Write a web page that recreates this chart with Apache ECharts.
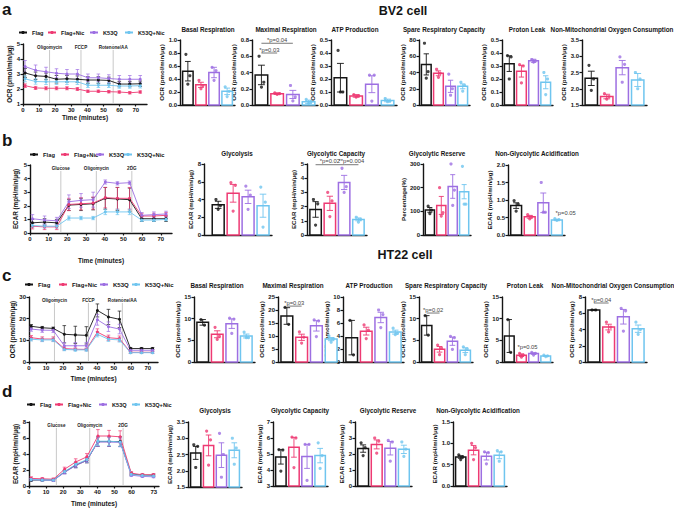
<!DOCTYPE html>
<html><head><meta charset="utf-8">
<script src="https://cdn.jsdelivr.net/npm/echarts/dist/echarts.min.js"></script>
<style>html,body{margin:0;padding:0;background:#fff}#c{width:674px;height:508px}</style>
</head><body><div id="c"></div>
<script>
// ---------------- DATA ----------------
const groups = ['Flag', 'Flag+Nic', 'K53Q', 'K53Q+Nic'];
const timeMin = [1.3, 7.8, 14.3, 20.8, 27.3, 33.8, 40.3, 46.8, 53.3, 59.8, 66.3, 72.8];
const timeTicks = [0, 10, 20, 30, 40, 50, 60, 70];
const timeTicksD = [0, 10, 20, 30, 40, 50, 60, 73];

// a: BV2 OCR kinetic
const aFlag = [3.07, 2.88, 2.84, 2.65, 2.68, 2.65, 2.60, 2.60, 2.57, 2.33, 2.33, 2.35];
const aFlagErr = [0.30, 0.25, 0.22, 0.25, 0.22, 0.22, 0.22, 0.22, 0.22, 0.18, 0.18, 0.18];
const aFlagNic = [2.22, 2.07, 2.05, 2.05, 2.05, 2.00, 1.85, 1.85, 1.82, 1.80, 1.75, 1.80];
const aFlagNicErr = [0.12, 0.10, 0.10, 0.10, 0.10, 0.10, 0.08, 0.08, 0.08, 0.08, 0.08, 0.08];
const aK53Q = [3.50, 3.25, 3.15, 3.05, 3.00, 3.00, 2.75, 2.75, 2.70, 2.65, 2.65, 2.65];
const aK53QErr = [0.40, 0.35, 0.30, 0.30, 0.30, 0.30, 0.25, 0.25, 0.25, 0.25, 0.25, 0.25];
const aK53QNic = [2.68, 2.50, 2.48, 2.48, 2.48, 2.48, 2.25, 2.25, 2.25, 2.20, 2.20, 2.22];
const aK53QNicErr = [0.20, 0.18, 0.18, 0.18, 0.18, 0.18, 0.15, 0.15, 0.15, 0.15, 0.15, 0.15];
const aInject = [16.5, 36, 56];
const aInjectNames = ['Oligomycin', 'FCCP', 'Rotenone/AA'];

// b: BV2 ECAR kinetic
const bFlag = [0.75, 0.80, 0.75, 2.05, 2.10, 2.15, 2.55, 2.50, 2.45, 1.05, 1.05, 1.05];
const bFlagErr = [0.25, 0.25, 0.25, 0.40, 0.45, 0.45, 0.80, 0.85, 0.85, 0.20, 0.20, 0.20];
const bFlagNic = [0.50, 0.45, 0.45, 2.10, 2.15, 2.20, 2.60, 2.55, 2.55, 1.25, 1.25, 1.30];
const bFlagNicErr = [0.20, 0.20, 0.20, 0.45, 0.45, 0.45, 0.75, 0.80, 0.80, 0.20, 0.20, 0.20];
const bK53Q = [1.05, 0.95, 0.90, 2.30, 2.40, 2.45, 3.75, 3.65, 3.70, 1.30, 1.35, 1.40];
const bK53QErr = [0.30, 0.30, 0.25, 0.50, 0.50, 0.55, 0.15, 0.12, 0.12, 0.20, 0.20, 0.20];
const bK53QNic = [0.55, 0.50, 0.50, 1.10, 1.10, 1.10, 1.55, 1.55, 1.55, 0.95, 0.95, 1.00];
const bK53QNicErr = [0.15, 0.15, 0.15, 0.15, 0.12, 0.12, 0.20, 0.20, 0.20, 0.10, 0.10, 0.10];
const bInject = [16.5, 35.5, 54.5];
const bInjectNames = ['Glucose', 'Oligomycin', '2DG'];

// c: HT22 OCR kinetic
const cFlag = [16.5, 15.8, 15.5, 12.8, 12.5, 12.3, 23.8, 20.8, 19.7, 6.2, 6.2, 6.2];
const cFlagErr = [0.8, 0.6, 0.6, 4.0, 4.0, 4.0, 3.0, 3.5, 3.8, 0.5, 0.5, 0.5];
const cFlagNic = [11.2, 10.6, 10.6, 6.2, 5.9, 5.8, 13.8, 11.2, 10.8, 4.5, 4.5, 4.5];
const cFlagNicErr = [1.0, 1.0, 1.0, 0.7, 0.6, 0.6, 1.5, 1.2, 1.2, 0.5, 0.5, 0.5];
const cK53Q = [15.2, 14.7, 14.6, 7.5, 7.5, 7.5, 19.5, 16.3, 15.2, 5.4, 5.4, 5.4];
const cK53QErr = [1.0, 1.0, 1.0, 1.5, 1.5, 1.5, 2.5, 2.2, 2.2, 0.5, 0.5, 0.5];
const cK53QNic = [10.5, 10.2, 10.2, 5.8, 5.6, 5.6, 12.8, 10.5, 10.2, 4.3, 4.3, 4.3];
const cK53QNicErr = [0.8, 0.8, 0.8, 0.6, 0.6, 0.6, 1.2, 1.0, 1.0, 0.4, 0.4, 0.4];
const cInject = [15, 35, 55];
const cInjectNames = ['Oligomycin', 'FCCP', 'Rotenone/AA'];

// d: HT22 ECAR kinetic
const dFlag = [0.75, 0.75, 0.75, 1.75, 2.60, 3.20, 5.55, 5.55, 5.55, 1.50, 1.35, 1.35];
const dFlagErr = [0.15, 0.12, 0.12, 0.20, 0.30, 0.30, 0.60, 0.60, 0.60, 0.15, 0.12, 0.12];
const dFlagNic = [0.95, 0.90, 0.85, 2.10, 3.00, 3.65, 6.25, 6.25, 6.15, 1.60, 1.40, 1.40];
const dFlagNicErr = [0.20, 0.15, 0.15, 0.25, 0.40, 0.40, 0.80, 0.70, 0.75, 0.20, 0.15, 0.15];
const dK53Q = [0.80, 0.75, 0.70, 1.70, 2.55, 3.20, 5.50, 5.50, 5.45, 1.35, 1.20, 1.15];
const dK53QErr = [0.15, 0.12, 0.12, 0.20, 0.30, 0.30, 0.55, 0.55, 0.55, 0.15, 0.12, 0.12];
const dK53QNic = [0.80, 0.75, 0.75, 1.80, 2.70, 3.30, 5.60, 5.60, 5.50, 1.45, 1.30, 1.25];
const dK53QNicErr = [0.15, 0.12, 0.12, 0.20, 0.30, 0.30, 0.55, 0.55, 0.55, 0.15, 0.12, 0.12];
const dInject = [16, 35.5, 55];
const dInjectNames = ['Glucose', 'Oligomycin', '2DG'];

// bar panels: mean, sem, individual points (per group)
const a1Mean = [0.52, 0.31, 0.50, 0.21], a1Sem = [0.15, 0.04, 0.08, 0.05];
const a1Pts = [[0.78, 0.45, 0.32], [0.38, 0.30, 0.25], [0.58, 0.53, 0.38], [0.28, 0.21, 0.13]];
const a2Mean = [0.37, 0.14, 0.13, 0.04], a2Sem = [0.12, 0.01, 0.05, 0.02];
const a2Pts = [[0.60, 0.28, 0.22], [0.15, 0.14, 0.13], [0.24, 0.10, 0.05], [0.07, 0.04, 0.02]];
const a3Mean = [0.21, 0.07, 0.16, 0.035], a3Sem = [0.11, 0.01, 0.065, 0.01];
const a3Pts = [[0.42, 0.10, 0.10], [0.08, 0.07, 0.06], [0.23, 0.23, 0.03], [0.05, 0.03, 0.025]];
const a4Mean = [50, 39, 23, 23], a4Sem = [13, 3, 7.5, 3];
const a4Pts = [[76, 41, 33], [44, 39, 34], [38, 20, 12], [28, 24, 17]];
const a5Mean = [0.318, 0.26, 0.34, 0.175], a5Sem = [0.06, 0.045, 0.012, 0.05];
const a5Pts = [[0.38, 0.37, 0.20], [0.31, 0.30, 0.17], [0.35, 0.34, 0.33], [0.25, 0.20, 0.08]];
const a6Mean = [2.32, 1.76, 2.65, 2.27], a6Sem = [0.22, 0.07, 0.22, 0.2];
const a6Pts = [[2.72, 2.30, 1.95], [1.85, 1.76, 1.68], [2.98, 2.75, 2.20], [2.50, 2.30, 2.00]];

const b1Mean = [3.4, 4.7, 4.3, 3.3], b1Sem = [0.4, 1.0, 0.75, 1.3];
const b1Pts = [[4.0, 3.3, 2.9], [5.9, 5.6, 2.7], [5.5, 4.5, 2.9], [5.4, 3.7, 0.9]];
const b2Mean = [1.8, 2.23, 3.7, 1.1], b2Sem = [0.55, 0.5, 0.5, 0.1];
const b2Pts = [[2.5, 2.2, 0.7], [3.0, 2.4, 1.3], [4.7, 3.4, 3.0], [1.25, 1.1, 0.9]];
const b3Mean = [106, 125, 205, 183], b3Sem = [10, 38, 50, 30];
const b3Pts = [[122, 105, 90], [200, 95, 80], [300, 190, 125], [290, 130, 130]];
const b4Mean = [0.84, 0.52, 0.92, 0.43], b4Sem = [0.08, 0.04, 0.28, 0.02];
const b4Pts = [[0.98, 0.88, 0.68], [0.58, 0.52, 0.46], [1.50, 0.65, 0.65], [0.47, 0.44, 0.42]];

const c1Mean = [9.15, 6.4, 8.85, 6.0], c1Sem = [0.65, 0.8, 1.1, 0.45];
const c1Pts = [[9.8, 8.5], [8.0, 5.9, 5.2], [10.1, 9.9, 6.6], [6.9, 5.6, 5.6]];
const c2Mean = [17.7, 9.5, 13.9, 8.8], c2Sem = [3.2, 1.2, 2.0, 0.6];
const c2Pts = [[21.0, 14.5], [11.6, 9.6, 7.3], [16.2, 15.8, 9.8], [10.0, 8.9, 7.6]];
const c3Mean = [3.75, 4.75, 6.85, 4.6], c3Sem = [2.65, 0.6, 0.8, 0.3];
const c3Pts = [[6.4, 1.1], [5.7, 4.9, 3.6], [8.0, 7.3, 5.3], [5.2, 4.4, 4.2]];
const c4Mean = [8.45, 2.93, 4.8, 2.73], c4Sem = [2.25, 0.65, 0.95, 0.55];
const c4Pts = [[10.7, 6.2], [3.9, 3.2, 1.7], [5.9, 5.6, 2.9], [3.5, 3.0, 1.7]];
const c5Mean = [6.0, 1.57, 1.95, 1.4], c5Sem = [3.8, 0.3, 0.18, 0.1];
const c5Pts = [[9.8, 2.2], [2.0, 1.6, 1.1], [2.2, 2.0, 1.6], [1.6, 1.4, 1.25]];
const c6Mean = [6.4, 4.3, 5.57, 4.1], c6Sem = [0.03, 0.35, 0.9, 0.45];
const c6Pts = [[6.4, 6.4], [4.9, 4.3, 3.7], [6.6, 6.3, 3.8], [4.9, 4.0, 3.4]];

const d1Mean = [2.55, 2.78, 2.48, 2.63], d1Sem = [0.2, 0.32, 0.38, 0.23];
const d1Pts = [[2.8, 2.75, 2.1], [3.22, 2.95, 2.17], [3.15, 2.5, 1.8], [3.0, 2.7, 2.2]];
const d2Mean = [4.82, 5.42, 4.85, 4.9], d2Sem = [0.45, 0.62, 0.75, 0.45];
const d2Pts = [[5.28, 5.25, 3.93], [6.05, 6.0, 4.15], [5.6, 5.6, 3.35], [5.7, 4.9, 4.1]];
const d3Mean = [2.34, 2.6, 2.36, 2.29], d3Sem = [0.23, 0.28, 0.42, 0.26];
const d3Pts = [[2.7, 2.4, 1.9], [3.0, 2.8, 2.05], [2.85, 2.75, 1.55], [2.75, 2.3, 1.85]];
const d4Mean = [0.68, 0.84, 0.70, 0.72], d4Sem = [0.03, 0.11, 0.09, 0.08];
const d4Pts = [[0.73, 0.68, 0.62], [1.0, 0.9, 0.62], [0.8, 0.78, 0.52], [0.83, 0.8, 0.58]];

// significance annotations: [fromGroup, toGroup, y, text]
const a2Sig = [[0, 2, 0.76, '*p=0.04'], [0, 1, 0.64, '*p=0.03']];
const b2Sig = [[0, 2, 4.95, '*p=0.02'], [2, 3, 4.95, '**p=0.004']];
const b4Sig = [[3.65, 3.65, 0.62, '*p=0.05']];
const c2Sig = [[0, 1, 21.5, '*p=0.03']];
const c4Sig = [[0, 1, 11.3, '*p=0.02']];
const c5Sig = [[1.5, 1.5, 3.5, '*p=0.05']];
const c6Sig = [[0, 1, 7.26, '*p=0.04']];

// ---------------- STYLE / LAYOUT ----------------
const COLORS = ['#151515', '#ee3a73', '#9d6fe2', '#6fc5ef'];
const FONT = 'Liberation Sans, Arial, Helvetica, sans-serif';
const OCR = 'OCR (pmol/min/μg)', ECAR = 'ECAR (mpH/min/μg)';

const lineCharts = [
  {box: [23, 44, 124, 60], x: [0, 77], y: [1, 5, 1], ticks: timeTicks, yName: OCR, yGap: 10, xGap: 10,
   s: [[aFlag, aFlagErr], [aFlagNic, aFlagNicErr], [aK53Q, aK53QErr], [aK53QNic, aK53QNicErr]],
   inj: aInject, injN: aInjectNames, leg: [18, 47, 89, 124], legTop: 29.5, legFont: 5.6},
  {box: [30, 165, 142, 68], x: [0, 76], y: [0, 5, 1], ticks: timeTicks, yName: ECAR, yGap: 12, xGap: 24,
   s: [[bFlag, bFlagErr], [bFlagNic, bFlagNicErr], [bK53Q, bK53QErr], [bK53QNic, bK53QNicErr]],
   inj: bInject, injN: bInjectNames, leg: [29, 60, 95, 123], legTop: 151.5, legFont: 5.8},
  {box: [29, 297, 129, 65], x: [0, 76], y: [0, 30, 10], ticks: timeTicks, yName: OCR, yGap: 12, xGap: 13,
   s: [[cFlag, cFlagErr], [cFlagNic, cFlagNicErr], [cK53Q, cK53QErr], [cK53QNic, cK53QNicErr]],
   inj: cInject, injN: cInjectNames, leg: [24, 58, 99, 131], legTop: 281.5, legFont: 6},
  {box: [29, 422, 130, 65], x: [0, 76], y: [0, 8, 2], ticks: timeTicksD, yName: ECAR, yGap: 10, xGap: 14,
   s: [[dFlag, dFlagErr], [dFlagNic, dFlagNicErr], [dK53Q, dK53QErr], [dK53QNic, dK53QNicErr]],
   inj: dInject, injN: dInjectNames, leg: [26, 54, 98, 131], legTop: 401.5, legFont: 5.6}
];

const barCharts = [
  {box: [180, 40, 55, 65], y: [0, 1.0, 0.2], dec: 1, title: 'Basal Respiration', tx: 208, ty: 29, yName: OCR, m: a1Mean, e: a1Sem, p: a1Pts},
  {box: [252, 40, 66, 65], y: [0, 0.8, 0.2], dec: 1, title: 'Maximal Respiration', tx: 286, ty: 29, yName: OCR, m: a2Mean, e: a2Sem, p: a2Pts, sig: a2Sig},
  {box: [331, 40, 66, 65], y: [0, 0.5, 0.1], dec: 1, title: 'ATP Production', tx: 355, ty: 29, yName: OCR, m: a3Mean, e: a3Sem, p: a3Pts},
  {box: [419, 40, 51, 65], y: [0, 80, 20], dec: 0, title: 'Spare Respiratory Capacity', tx: 444, ty: 29, yName: OCR, m: a4Mean, e: a4Sem, p: a4Pts},
  {box: [502, 40, 51, 65], y: [0, 0.5, 0.1], dec: 1, title: 'Proton Leak', tx: 527, ty: 29, yName: OCR, m: a5Mean, e: a5Sem, p: a5Pts},
  {box: [582, 40, 65, 65], y: [1.5, 3.5, 0.5], dec: 1, title: 'Non-Mitochondrial Oxygen Consumption', tx: 612, ty: 29, yName: OCR, m: a6Mean, e: a6Sem, p: a6Pts},

  {box: [204, 164, 68, 71], xr: [-0.95, 3.6], y: [0, 8, 2], dec: 0, title: 'Glycolysis', tx: 237, ty: 153, yName: ECAR, m: b1Mean, e: b1Sem, p: b1Pts},
  {box: [307, 164, 60, 71], y: [0, 5, 1], dec: 0, title: 'Glycolytic Capacity', tx: 336, ty: 153, yName: ECAR, m: b2Mean, e: b2Sem, p: b2Pts, sig: b2Sig},
  {box: [423, 164, 48, 71], y: [0, 300, 100], dec: 0, title: 'Glycolytic Reserve', tx: 437, ty: 153, yName: 'Percentage(%)', m: b3Mean, e: b3Sem, p: b3Pts},
  {box: [508, 165, 57, 70], y: [0, 2.0, 0.5], dec: 1, title: 'Non-Glycolytic Acidification', tx: 537, ty: 153, yName: ECAR, m: b4Mean, e: b4Sem, p: b4Pts, sig: b4Sig},

  {box: [194, 297, 61, 65], y: [0, 15, 5], dec: 0, title: 'Basal Respiration', tx: 217, ty: 285, yName: OCR, m: c1Mean, e: c1Sem, p: c1Pts},
  {box: [278, 297, 62, 65], y: [0, 25, 5], dec: 0, title: 'Maximal Respiration', tx: 293, ty: 285, yName: OCR, m: c2Mean, e: c2Sem, p: c2Pts, sig: c2Sig},
  {box: [343, 297, 61, 65], y: [0, 10, 2], dec: 0, title: 'ATP Production', tx: 369, ty: 285, yName: OCR, m: c3Mean, e: c3Sem, p: c3Pts},
  {box: [419, 297, 54, 65], y: [0, 15, 5], dec: 0, title: 'Spare Respiratory Capacity', tx: 446, ty: 285, yName: OCR, m: c4Mean, e: c4Sem, p: c4Pts, sig: c4Sig},
  {box: [502, 297, 51, 65], y: [0, 15, 5], dec: 0, title: 'Proton Leak', tx: 525, ty: 285, yName: OCR, m: c5Mean, e: c5Sem, p: c5Pts, sig: c5Sig},
  {box: [585, 297, 62, 65], y: [0, 8, 2], dec: 0, title: 'Non-Mitochondrial Oxygen Consumption', tx: 613, ty: 285, yName: OCR, m: c6Mean, e: c6Sem, p: c6Pts, sig: c6Sig},

  {box: [188, 422, 54, 65], y: [1.5, 3.5, 0.5], dec: 1, title: 'Glycolysis', tx: 215, ty: 410, yName: ECAR, m: d1Mean, e: d1Sem, p: d1Pts},
  {box: [273, 422, 55, 64], y: [3, 7, 1], dec: 0, title: 'Glycolytic Capacity', tx: 300, ty: 410, yName: ECAR, m: d2Mean, e: d2Sem, p: d2Pts},
  {box: [355, 422, 57, 64], y: [0, 4, 1], dec: 0, title: 'Glycolytic Reserve', tx: 388, ty: 410, yName: ECAR, m: d3Mean, e: d3Sem, p: d3Pts},
  {box: [453, 422, 54, 64], y: [0, 1.5, 0.5], dec: 1, title: 'Non-Glycolytic Acidification', tx: 478, ty: 410, yName: ECAR, m: d4Mean, e: d4Sem, p: d4Pts}
];

const texts = [
  {t: 'a', x: 2, y: 9, size: 17, align: 'left'},
  {t: 'b', x: 2, y: 140, size: 17, align: 'left'},
  {t: 'c', x: 2, y: 275, size: 17, align: 'left'},
  {t: 'd', x: 2, y: 391, size: 17, align: 'left'},
  {t: 'BV2 cell', x: 403, y: 11, size: 12.5, align: 'center'},
  {t: 'HT22 cell', x: 405, y: 255, size: 12.5, align: 'center'}
];

// ---------------- BUILD ----------------
const option = {animation: false, backgroundColor: '#fff', grid: [], xAxis: [], yAxis: [], series: [], legend: [], graphic: []};
const axisLineStyle = {color: '#151515', width: 1.4};
const labelStyle = {fontSize: 6, fontWeight: 'bold', fontFamily: FONT, color: '#151515'};

function txt(t, x, y, o) {
  o = o || {};
  return {type: 'text', x: x, y: y, z: 100, style: {text: t, x: 0, y: 0, fill: o.fill || '#151515',
    font: (o.weight || 'bold') + ' ' + (o.size || 6.3) + 'px ' + FONT,
    align: o.align || 'center', textAlign: o.align || 'center',
    verticalAlign: o.va || 'middle', textVerticalAlign: o.va || 'middle'}};
}

function errRender(colorFn, capUnits, capPx, lw) {
  return function (params, api) {
    const x = api.value(0), m = api.value(1), e = api.value(2);
    const t = api.coord([x, m + e]), b = api.coord([x, m - e]);
    const cap = capUnits ? api.size([capUnits, 0])[0] : capPx;
    const c = colorFn(params.dataIndex, x);
    const st = {stroke: c, lineWidth: lw};
    return {type: 'group', children: [
      {type: 'line', shape: {x1: t[0], y1: t[1], x2: b[0], y2: b[1]}, style: st},
      {type: 'line', shape: {x1: t[0] - cap, y1: t[1], x2: t[0] + cap, y2: t[1]}, style: st},
      {type: 'line', shape: {x1: b[0] - cap, y1: b[1], x2: b[0] + cap, y2: b[1]}, style: st}
    ]};
  };
}

// Line charts first (so legend picks line series)
lineCharts.forEach(function (L) {
  const gi = option.grid.length;
  option.grid.push({left: L.box[0], top: L.box[1], width: L.box[2], height: L.box[3]});
  option.xAxis.push({type: 'value', gridIndex: gi, min: L.x[0], max: L.x[1],
    name: 'Time (minutes)', nameLocation: 'middle', nameGap: L.xGap,
    nameTextStyle: {fontSize: 6.5, fontWeight: 'bold', fontFamily: FONT, color: '#151515'},
    axisLine: {onZero: false, lineStyle: axisLineStyle},
    axisTick: {length: 2.5, lineStyle: {width: 1.2}, customValues: L.ticks},
    axisLabel: Object.assign({margin: 3, customValues: L.ticks}, labelStyle), splitLine: {show: false}});
  option.yAxis.push({type: 'value', gridIndex: gi, min: L.y[0], max: L.y[1], interval: L.y[2],
    name: L.yName, nameLocation: 'middle', nameGap: L.yGap,
    nameTextStyle: {fontSize: 6.3, fontWeight: 'bold', fontFamily: FONT, color: '#151515'},
    axisLine: {onZero: false, lineStyle: axisLineStyle}, axisTick: {length: 2.5, lineStyle: {width: 1.2}},
    axisLabel: Object.assign({margin: 3}, labelStyle), splitLine: {show: false}});
  // injection lines
  option.series.push({type: 'custom', xAxisIndex: gi, yAxisIndex: gi, silent: true, z: 1,
    data: L.inj.map(function (t) { return [t, L.y[1]]; }),
    renderItem: function (params, api) {
      const t = api.value(0);
      const top = api.coord([t, L.y[1]]), bot = api.coord([t, L.y[0]]);
      return {type: 'group', children: [
        {type: 'line', shape: {x1: top[0], y1: top[1], x2: bot[0], y2: bot[1]}, style: {stroke: '#c8c8c8', lineWidth: 1}},
        {type: 'text', x: top[0], y: top[1] + 3.5, style: {text: L.injN[params.dataIndex], fill: '#222',
          font: 'bold 4.6px ' + FONT, align: 'center', textAlign: 'center', verticalAlign: 'middle', textVerticalAlign: 'middle',
          backgroundColor: '#fff'}}
      ]};
    }});
  L.s.forEach(function (pair, g) {
    option.series.push({type: 'custom', xAxisIndex: gi, yAxisIndex: gi, silent: true, z: 2,
      data: timeMin.map(function (t, i) { return [t, pair[0][i], pair[1][i]]; }),
      renderItem: errRender(function () { return COLORS[g]; }, 0, 1.8, 0.7)});
    option.series.push({type: 'line', name: groups[g], xAxisIndex: gi, yAxisIndex: gi, z: 3,
      data: timeMin.map(function (t, i) { return [t, pair[0][i]]; }),
      symbol: 'circle', symbolSize: 3, showSymbol: true,
      lineStyle: {width: 0.9, color: COLORS[g]}, itemStyle: {color: COLORS[g]}});
  });
  groups.forEach(function (g, i) {
    option.legend.push({data: [g], left: L.leg[i], top: L.legTop, padding: 0, itemGap: 0,
      itemWidth: 8, itemHeight: 4, itemTextGap: 2, selectedMode: false,
      textStyle: {fontSize: L.legFont, fontWeight: 'bold', fontFamily: FONT, color: '#151515'}});
  });
});

barCharts.forEach(function (P) {
  const gi = option.grid.length;
  const xr = P.xr || [-0.6, 3.6];
  const ymin = P.y[0];
  option.grid.push({left: P.box[0], top: P.box[1], width: P.box[2], height: P.box[3]});
  option.xAxis.push({type: 'value', gridIndex: gi, min: xr[0], max: xr[1],
    axisLine: {onZero: false, lineStyle: axisLineStyle}, axisTick: {show: false}, axisLabel: {show: false}, splitLine: {show: false}});
  const maxLab = Math.max.apply(null, [P.y[0], P.y[1]].map(function (v) { return v.toFixed(P.dec).length; }));
  option.yAxis.push({type: 'value', gridIndex: gi, min: P.y[0], max: P.y[1], interval: P.y[2],
    name: P.yName, nameLocation: 'middle', nameGap: 5 + maxLab * 3.1,
    nameTextStyle: {fontSize: 6.2, fontWeight: 'bold', fontFamily: FONT, color: '#151515'},
    axisLine: {onZero: false, lineStyle: axisLineStyle}, axisTick: {length: 2.5, lineStyle: {width: 1.2}},
    axisLabel: Object.assign({margin: 3, formatter: function (v) { return v.toFixed(P.dec); }}, labelStyle),
    splitLine: {show: false}});
  // bars
  option.series.push({type: 'custom', xAxisIndex: gi, yAxisIndex: gi, silent: true, z: 2,
    data: P.m.map(function (v, i) { return [i, v]; }),
    renderItem: function (params, api) {
      const i = api.value(0), v = api.value(1);
      const a = api.coord([i - 0.4, v]), b = api.coord([i + 0.4, ymin]);
      return {type: 'rect', shape: {x: a[0], y: a[1], width: b[0] - a[0], height: b[1] - a[1]},
        style: {fill: '#fff', stroke: COLORS[i], lineWidth: 1.5}};
    }});
  // error bars
  option.series.push({type: 'custom', xAxisIndex: gi, yAxisIndex: gi, silent: true, z: 3,
    data: P.m.map(function (v, i) { return [i, v, P.e[i]]; }),
    renderItem: errRender(function (idx) { return COLORS[idx]; }, 0.22, 0, 0.9)});
  // points
  const pts = [];
  P.p.forEach(function (arr, g) {
    const jit = arr.length === 2 ? [-0.12, 0.12] : [-0.15, 0.15, 0];
    arr.forEach(function (v, k) { pts.push({value: [g + jit[k], v], itemStyle: {color: COLORS[g]}}); });
  });
  option.series.push({type: 'scatter', xAxisIndex: gi, yAxisIndex: gi, silent: true, z: 4,
    symbolSize: 3.2, data: pts});
  // significance
  if (P.sig) {
    option.series.push({type: 'custom', xAxisIndex: gi, yAxisIndex: gi, silent: true, z: 5,
      data: P.sig.map(function (s) { return [s[0], s[2], s[1]]; }),
      renderItem: function (params, api) {
        const s = P.sig[params.dataIndex];
        const p1 = api.coord([s[0], s[2]]), p2 = api.coord([s[1], s[2]]);
        const ch = [];
        const noLine = s[0] === s[1];
        if (!noLine) ch.push({type: 'line', shape: {x1: p1[0], y1: p1[1], x2: p2[0], y2: p2[1]}, style: {stroke: '#555', lineWidth: 0.8}});
        ch.push({type: 'text', x: (p1[0] + p2[0]) / 2, y: noLine ? p1[1] : p1[1] - 0.5,
          style: {text: s[3], fill: '#444', font: '5.8px ' + FONT, align: 'center', textAlign: 'center',
            verticalAlign: noLine ? 'middle' : 'bottom', textVerticalAlign: noLine ? 'middle' : 'bottom'}});
        return {type: 'group', children: ch};
      }});
  }
  option.graphic.push(txt(P.title, P.tx, P.ty, {size: 6.3}));
});

texts.forEach(function (T) { option.graphic.push(txt(T.t, T.x, T.y, {size: T.size, align: T.align})); });

const chart = echarts.init(document.getElementById('c'), null, {renderer: 'svg', width: 674, height: 508});
chart.setOption(option);
</script></body></html>
